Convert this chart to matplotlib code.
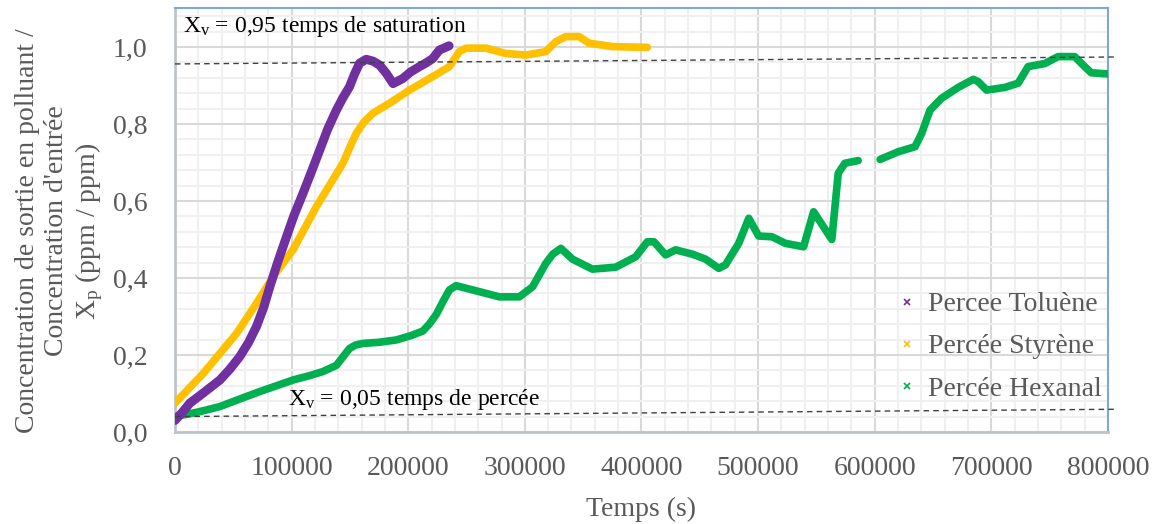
import numpy as np
import matplotlib
matplotlib.use("Agg")
import matplotlib.pyplot as plt
from matplotlib.lines import Line2D
from matplotlib.ticker import MultipleLocator

plt.rcParams['font.family'] = ['Liberation Serif', 'DejaVu Serif']
plt.rcParams['mathtext.fontset'] = 'custom'
plt.rcParams['mathtext.rm'] = 'Liberation Serif'
plt.rcParams['mathtext.it'] = 'Liberation Serif:italic'

# Percee Toluene
tol_t = [0, 6000, 12800, 25000, 38500, 47000, 55600, 63000, 69900, 76000, 81300,
         88000, 95600, 102000, 109800, 117000, 124100, 131000, 138400, 144000,
         149700, 154000, 158300, 164000, 170000, 175400, 181100, 187000, 195300,
         202000, 209600, 215000, 221000, 226700, 235000]
tol_x = [0.03, 0.05, 0.075, 0.103, 0.135, 0.163, 0.196, 0.232, 0.274, 0.323, 0.377,
         0.44, 0.507, 0.562, 0.62, 0.676, 0.732, 0.787, 0.836, 0.868,
         0.897, 0.93, 0.958, 0.968, 0.963, 0.953, 0.932, 0.905, 0.918,
         0.935, 0.949, 0.958, 0.970, 0.992, 1.003]

# Percee Styrene
sty_t = [0, 24200, 52800, 69900, 84100, 101200, 121200, 144000, 150000, 155500,
         162000, 169700, 184000, 201100, 221000, 235300, 243800, 249600, 266700,
         283800, 300900, 318000, 326600, 335100, 346500, 355100, 375000, 405000]
sty_x = [0.075, 0.152, 0.256, 0.334, 0.403, 0.473, 0.585, 0.698, 0.74, 0.776,
         0.805, 0.828, 0.854, 0.888, 0.923, 0.949, 0.988, 0.997, 0.997,
         0.983, 0.979, 0.988, 1.014, 1.027, 1.027, 1.01, 1.001, 0.999]

# Percee Hexanal (nan = trou dans les mesures)
hex_t = [0, 20000, 38500, 55000, 72700, 87000, 101200, 115000, 126900, 138400,
         144000, 149700, 155000, 161100, 175000, 189700, 202000, 212400,
         218000, 224000, 230000, 235300, 241000, 255300, 278100, 295200,
         306600, 318000, 324000, 330900, 340800, 357900, 377900, 395000,
         405000, 410700, 420700, 429200, 443500, 454900, 466300, 472000,
         483400, 492000, 500500, 511900, 523400, 539000, 547600, 563200,
         568700, 574400, 585800, 595000, 604600, 620300, 634600, 640300,
         647400, 657400, 671600, 684500, 688700, 695900, 711600, 723000,
         731500, 745800, 757200, 771500, 780000, 785700, 800000]
hex_x = [0.04, 0.052, 0.066, 0.085, 0.105, 0.12, 0.135, 0.146, 0.157, 0.173,
         0.195, 0.217, 0.226, 0.23, 0.233, 0.239, 0.25, 0.262,
         0.28, 0.305, 0.34, 0.369, 0.380, 0.369, 0.351, 0.351,
         0.377, 0.438, 0.462, 0.477, 0.449, 0.423, 0.428, 0.455,
         0.494, 0.494, 0.46, 0.473, 0.462, 0.449, 0.425, 0.434,
         0.49, 0.555, 0.509, 0.507, 0.49, 0.481, 0.572, 0.50,
         0.672, 0.698, 0.705, np.nan, 0.708, 0.728, 0.741, 0.776,
         0.836, 0.867, 0.895, 0.916, 0.91, 0.888, 0.895, 0.906,
         0.949, 0.957, 0.975, 0.975, 0.949, 0.933, 0.93]

# lignes de reference
sat_t = [0, 805000]
sat_x = [0.956, 0.974]
perc_t = [0, 805000]
perc_x = [0.040, 0.059]

labels = ["Percee Toluène", "Percée Styrène", "Percée Hexanal"]
colors = ["#7030A0", "#FFC000", "#00B050"]

fig = plt.figure(figsize=(11.58, 5.24), dpi=100)
ax = fig.add_axes([0.1511, 0.1756, 0.8057, 0.8082])

ax.plot(sty_t, sty_x, color=colors[1], lw=5.5, solid_capstyle='round',
        solid_joinstyle='round', zorder=3)
ax.plot(tol_t, tol_x, color=colors[0], lw=6.5, solid_capstyle='round',
        solid_joinstyle='round', zorder=4)
ax.plot(hex_t, hex_x, color=colors[2], lw=5.5, solid_capstyle='round',
        solid_joinstyle='round', zorder=3)

ax.plot(sat_t, sat_x, color='#404040', lw=1, ls=(0, (4, 3)), clip_on=False, zorder=5)
ax.plot(perc_t, perc_x, color='#404040', lw=1, ls=(0, (4, 3)), clip_on=False, zorder=5)

ax.text(6900, 1.052, r"X$_\mathrm{v}$ = 0,95 temps de saturation", fontsize=17,
        va='center', ha='left', color='black', zorder=6)
ax.text(96800, 0.085, r"X$_\mathrm{v}$ = 0,05 temps de percée", fontsize=17,
        va='center', ha='left', color='black', zorder=6)

ax.set_xlim(0, 800000)
ax.set_ylim(0, 1.1)
ax.xaxis.set_major_locator(MultipleLocator(100000))
ax.xaxis.set_minor_locator(MultipleLocator(20000))
ax.yaxis.set_major_locator(MultipleLocator(0.2))
ax.yaxis.set_minor_locator(MultipleLocator(0.04))
ax.grid(which='major', color='#D9D9D9', lw=1.5)
ax.grid(which='minor', color='#F0F0F0', lw=1.5)
ax.set_axisbelow(True)

ax.xaxis.set_major_formatter(plt.FuncFormatter(lambda v, p: f"{int(round(v))}"))
ax.yaxis.set_major_formatter(plt.FuncFormatter(lambda v, p: f"{v:.1f}".replace('.', ',')))
ax.tick_params(which='both', length=0)
ax.tick_params(axis='x', labelsize=20, labelcolor='#595959', pad=17)
ax.tick_params(axis='y', labelsize=20, labelcolor='#595959', pad=20)

for s in ['top', 'right']:
    ax.spines[s].set_color('#7EA8DA')
    ax.spines[s].set_linewidth(1.5)
for s in ['left', 'bottom']:
    ax.spines[s].set_color('#BFC4CA')
    ax.spines[s].set_linewidth(2)

ax.set_xlabel("Temps (s)", fontsize=20, color='#595959', labelpad=12)
fig.text(60 / 1158, 0.559,
         "Concentration de sortie en polluant /\nConcentration d'entrée\n"
         r"X$_\mathrm{p}$ (ppm / ppm)",
         rotation=90, ha='center', va='center', multialignment='center',
         fontsize=20, color='#595959', linespacing=1.2)

handles = [Line2D([], [], color=c, marker='x', ls='none', markersize=5, mew=1.2)
           for c in colors]
leg = ax.legend(handles, labels, loc='upper left', bbox_to_anchor=(0.764, 0.357),
                frameon=False, fontsize=20, handlelength=0.6, handletextpad=0.45,
                labelspacing=0.6, borderaxespad=0)
for t in leg.get_texts():
    t.set_color('#595959')

fig.savefig("out.png", dpi=100)
